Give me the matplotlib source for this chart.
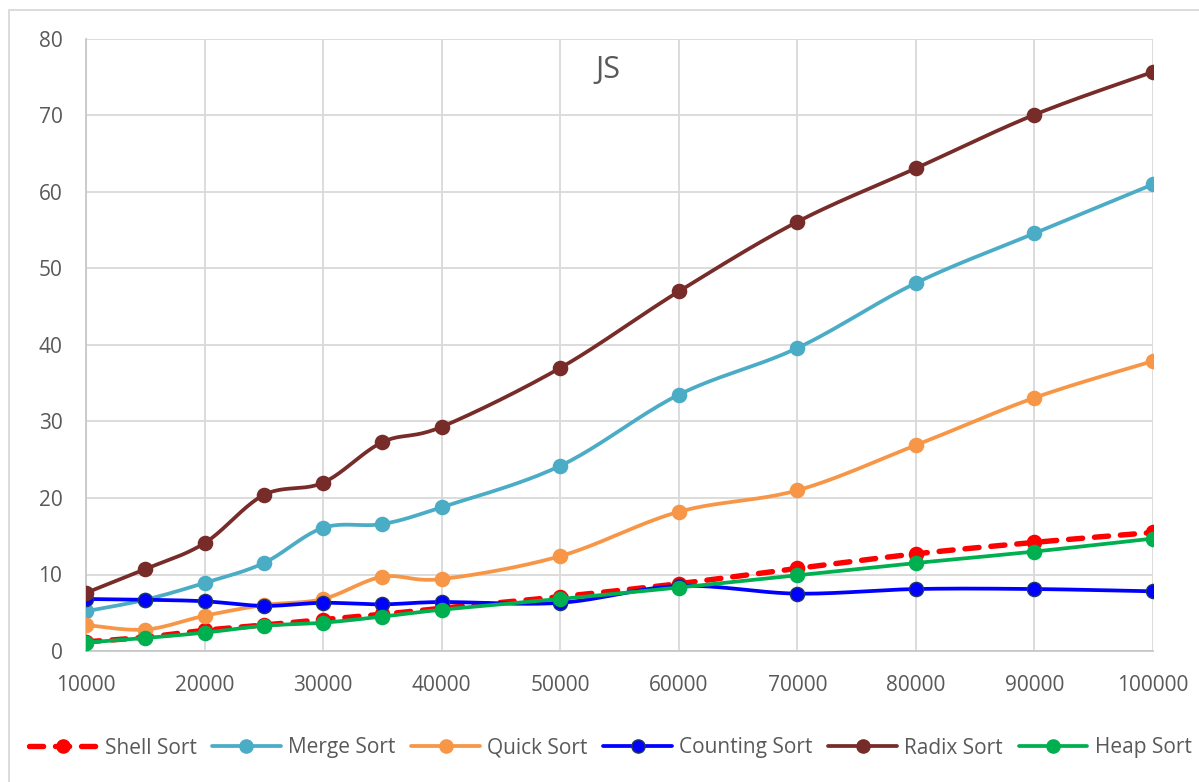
import numpy as np
import matplotlib as mpl
mpl.use('agg')
from matplotlib import pyplot as plt
from matplotlib.patches import Rectangle

plt.rcParams['font.family'] = ['Open Sans', 'DejaVu Sans']

sizes = [10000, 15000, 20000, 25000, 30000, 35000, 40000,
         50000, 60000, 70000, 80000, 90000, 100000]

shell_sort = [1.2, 1.8, 2.7, 3.4, 4.1, 4.8, 5.6, 7.1, 8.8, 10.8, 12.7, 14.2, 15.5]
merge_sort = [5.2, 6.7, 8.9, 11.5, 16.1, 16.6, 18.8, 24.2, 33.5, 39.6, 48.1, 54.6, 61.0]
quick_sort = [3.4, 2.8, 4.6, 6.0, 6.8, 9.7, 9.4, 12.4, 18.2, 21.0, 26.9, 33.1, 37.9]
counting_sort = [6.8, 6.7, 6.5, 5.9, 6.3, 6.1, 6.4, 6.3, 8.5, 7.5, 8.1, 8.1, 7.8]
radix_sort = [7.6, 10.7, 14.1, 20.4, 22.0, 27.3, 29.3, 37.0, 47.0, 56.1, 63.1, 70.1, 75.7]
heap_sort = [1.1, 1.7, 2.4, 3.3, 3.7, 4.5, 5.4, 6.8, 8.3, 9.9, 11.5, 13.0, 14.7]

series = [
    ('Shell Sort', shell_sort, '#FF0000', '#FF0000', (0, (2.6, 2.2)), 3.9),
    ('Merge Sort', merge_sort, '#4BACC6', '#4BACC6', '-', 2.7),
    ('Quick Sort', quick_sort, '#F79646', '#F79646', '-', 2.7),
    ('Counting Sort', counting_sort, '#0000FF', '#203864', '-', 2.7),
    ('Radix Sort', radix_sort, '#772C2A', '#772C2A', '-', 2.7),
    ('Heap Sort', heap_sort, '#00B050', '#00B050', '-', 2.7),
]

XMIN, XMAX, YMIN, YMAX = 10000, 100000, 0, 80
grey = '#595959'


def smooth(xs, ys, sx, sy, n=24):
    # cubic bezier through the points, control points from neighbours (like office "smoothed line")
    px = np.asarray(xs, float) * sx
    py = np.asarray(ys, float) * sy
    pts = np.column_stack([px, py])
    out = [pts[0]]
    for i in range(len(pts) - 1):
        p0 = pts[i - 1] if i > 0 else pts[i]
        p1, p2 = pts[i], pts[i + 1]
        p3 = pts[i + 2] if i + 2 < len(pts) else pts[i + 1]
        c1 = p1 + (p2 - p0) / 6.0
        c2 = p2 - (p3 - p1) / 6.0
        t = np.linspace(0, 1, n)[1:, None]
        seg = ((1 - t) ** 3) * p1 + 3 * ((1 - t) ** 2) * t * c1 + 3 * (1 - t) * t ** 2 * c2 + t ** 3 * p2
        out.extend(seg)
    out = np.array(out)
    return out[:, 0] / sx, out[:, 1] / sy


fig = plt.figure(figsize=(11.99, 7.82), dpi=100)
ax = fig.add_axes([86 / 1199, 1 - 651 / 782, (1153 - 86) / 1199, (651 - 39) / 782])

# scale factors so the smoothing happens in pixel space
sx = 1067 / (XMAX - XMIN)
sy = 612 / (YMAX - YMIN)

handles = []
for k, (name, vals, col, edge, ls, lw) in enumerate(series):
    cx, cy = smooth(sizes, vals, sx, sy)
    ax.plot(cx, cy, color=col, lw=lw, ls=ls, solid_capstyle='round',
            dash_capstyle='round', zorder=3 + k)
    ax.plot(sizes, vals, ls='none', marker='o', ms=10.2, mfc=col, mec=edge,
            mew=1.0, zorder=3 + k)
    h, = ax.plot([], [], color=col, lw=lw, ls=ls, marker='o', ms=9.5,
                 mfc=col, mec=edge, mew=1.0, dash_capstyle='round',
                 solid_capstyle='round')
    handles.append(h)

ax.set_xlim(XMIN, XMAX)
ax.set_ylim(YMIN, YMAX)
ax.set_xticks(np.arange(10000, 100001, 10000))
ax.set_yticks(np.arange(0, 81, 10))
ax.grid(True, color='#D9D9D9', lw=1.3, zorder=0)
ax.set_axisbelow(True)
for side in ['top', 'right']:
    ax.spines[side].set_visible(False)
for side in ['left', 'bottom']:
    ax.spines[side].set_color('#C8C8C8')
    ax.spines[side].set_linewidth(1.3)
ax.tick_params(axis='both', length=0, labelsize=15, labelcolor=grey)
ax.tick_params(axis='y', pad=17)
ax.tick_params(axis='x', pad=17)

ax.text((608 - 86) / 1067, (651 - 70) / 612, 'JS', transform=ax.transAxes,
        ha='center', va='center', fontsize=22, color=grey)

fig.legend(handles, [s[0] for s in series], loc='center',
           bbox_to_anchor=(610 / 1199, 1 - 748 / 782), ncol=6, frameon=False,
           fontsize=15, labelcolor=grey, handlelength=3.3, handletextpad=0.35,
           columnspacing=0.75)

# chart area border
fig.add_artist(Rectangle((9 / 1199, -0.05), 1.2, 1 - 10 / 782 + 0.05,
                         transform=fig.transFigure, fill=False,
                         edgecolor='#D9D9D9', lw=1.3))

plt.savefig('out.png', dpi=100)
